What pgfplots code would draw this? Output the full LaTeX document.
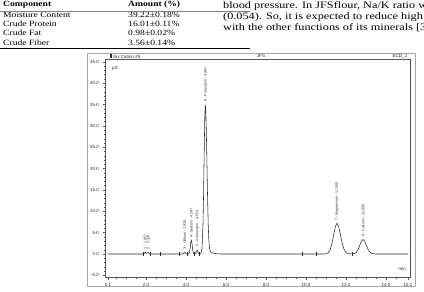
\documentclass[border=0pt]{standalone}
\usepackage{fontspec}
\setmainfont{Liberation Serif}
\newfontfamily\wideserif[FakeStretch=1.2]{Liberation Serif}
\newfontfamily\wideparserif[FakeStretch=1.25]{Liberation Serif}
\newfontfamily\arial{Liberation Sans}
\usepackage{pgfplots}
\pgfplotsset{compat=1.18}
\definecolor{ink}{HTML}{2A2A2A}
\definecolor{frame}{HTML}{555555}
\begin{document}
\begin{tikzpicture}
\useasboundingbox (0pt,0pt) rectangle (424pt,292pt);
\fill[white] (0pt,0pt) rectangle (424pt,292pt);
\begin{scope}
\clip (0pt,0pt) rectangle (424pt,292pt);
% table fragment
\begin{scope}[every node/.style={anchor=base west, inner sep=0pt}]
\node[font=\wideserif\fontsize{8}{9}\selectfont\bfseries] at (3pt,285pt) {Component};
\node[font=\wideserif\fontsize{8}{9}\selectfont\bfseries] at (128pt,285pt) {Amount (\%)};
\node[font=\wideserif\fontsize{8}{9}\selectfont] at (3pt,274.5pt) {Moisture Content};
\node[font=\wideserif\fontsize{8}{9}\selectfont] at (128pt,274.5pt) {39.22±0.18\%};
\node[font=\wideserif\fontsize{8}{9}\selectfont] at (3pt,265.3pt) {Crude Protein};
\node[font=\wideserif\fontsize{8}{9}\selectfont] at (128pt,265.3pt) {16.01±0.11\%};
\node[font=\wideserif\fontsize{8}{9}\selectfont] at (3pt,256.1pt) {Crude Fat};
\node[font=\wideserif\fontsize{8}{9}\selectfont] at (128pt,256.1pt) {0.98±0.02\%};
\node[font=\wideserif\fontsize{8}{9}\selectfont] at (3pt,246.9pt) {Crude Fiber};
\node[font=\wideserif\fontsize{8}{9}\selectfont] at (128pt,246.9pt) {3.56±0.14\%};
% paragraph fragment
\node[font=\wideparserif\fontsize{9.8}{11}\selectfont] at (223pt,283pt) {blood pressure. In JFSflour, Na/K ratio was found};
\node[font=\wideparserif\fontsize{9.8}{11}\selectfont] at (223pt,272pt) {(0.054). So, it is expected to reduce high blood};
\node[font=\wideparserif\fontsize{9.8}{11}\selectfont] at (223pt,261pt) {with the other functions of its minerals [36].};
\end{scope}
\draw[black!50, line width=0.4pt] (0pt,281pt) -- (250pt,281pt);
\draw[black, line width=1pt] (0pt,243pt) -- (250pt,243pt);
\end{scope}
% screenshot border
\draw[black!35, line width=0.6pt] (87pt,6pt) rectangle (415pt,239pt);
\begin{axis}[
  at={(105pt,14.5pt)}, anchor=south west, scale only axis,
  width=305pt, height=217.8pt,
  xmin=-0.05, xmax=15.2, ymin=-5.5, ymax=45.5,
  axis line style={frame, line width=0.5pt},
  tick style={frame, line width=0.4pt},
  tick pos=left, tick align=outside,
  major tick length=2.5pt, minor tick length=1.4pt,
  xtick={0.1,2,4,6,8,10,12,14,15.1},
  xticklabels={0.1,2.0,4.0,6.0,8.0,10.0,12.0,14.0,15.1},
  minor xtick={0.5,1,1.5,2.5,3,3.5,4.5,5,5.5,6.5,7,7.5,8.5,9,9.5,10.5,11,11.5,12.5,13,13.5,14.5},
  ytick={-5,0,5,10,15,20,25,30,35,40,45},
  yticklabels={-5.0,0.0,5.0,10.0,15.0,20.0,25.0,30.0,35.0,40.0,45.0},
  minor y tick num=4,
  ticklabel style={font=\arial\fontsize{4.5}{5}\selectfont, text=ink},
  xticklabel style={yshift=0.5pt},
  /pgf/number format/assume math mode=true,
  clip=false,
]
\addplot[ink, line width=0.55pt] coordinates {
(0.1,0) (1.85,0) (1.90,0.05) (1.93,0.30) (1.957,0.50) (1.99,0.30) (2.03,0.12)
(2.07,0.25) (2.11,0.35) (2.15,0.20) (2.20,0.03) (2.30,0)
(3.80,0) (3.85,0.05) (3.89,0.20) (3.93,0.35) (3.97,0.20) (4.01,0.05) (4.10,0.02)
(4.15,0.11) (4.18,0.49) (4.21,1.43) (4.24,2.67) (4.267,3.20) (4.29,2.81) (4.32,1.60)
(4.35,0.58) (4.38,0.14) (4.42,0.0) (4.46,0.05) (4.49,0.26) (4.52,0.64) (4.553,0.90)
(4.58,0.72) (4.62,0.22) (4.66,0.05) (4.70,0.02) (4.75,0.13) (4.80,1.3) (4.85,6.9)
(4.88,14.3) (4.91,23.8) (4.94,32.1) (4.967,35.0) (4.99,33.6) (5.02,28.1) (5.05,20.4)
(5.08,12.9) (5.11,7.0) (5.14,3.4) (5.18,1.2) (5.22,0.6) (5.30,0.3) (5.40,0.15)
(5.55,0.05) (5.70,0)
(10.9,0) (11.0,0.04) (11.1,0.22) (11.2,0.87) (11.3,2.44) (11.4,4.87) (11.475,6.53)
(11.55,7.2) (11.625,6.6) (11.7,5.0) (11.8,2.7) (11.9,1.1) (12.0,0.35) (12.1,0.12)
(12.2,0.05) (12.3,0.05) (12.4,0.07) (12.5,0.31) (12.6,1.0) (12.7,2.19) (12.775,3.05)
(12.85,3.4) (12.925,3.05) (13.0,2.25) (13.1,1.1) (13.2,0.4) (13.3,0.12) (13.4,0.03)
(13.5,0) (15.1,0)
};
% integration marks on the baseline
\addplot[only marks, mark=|, mark size=1.6pt, mark options={ink, line width=0.4pt}] coordinates {
(1.88,0) (2.22,0) (2.73,0) (3.66,0) (4.05,0) (4.40,0) (4.68,0) (9.79,0) (10.5,0) (12.32,0)
};
% peak labels
\begin{scope}[every node/.style={rotate=90, anchor=west, inner sep=0.5pt, font=\arial\fontsize{3.6}{4}\selectfont, text=ink}]
\node at (axis cs:1.957,1.0) {1 - 1.957};
\node at (axis cs:2.110,1.0) {2 - 2.110};
\node at (axis cs:3.930,1.0) {3 - Lithium - 3.930};
\node at (axis cs:4.267,3.6) {4 - Sodium - 4.267};
\node at (axis cs:4.553,1.6) {5 - Ammonium - 4.553};
\node at (axis cs:4.967,35.6) {6 - Potassium - 4.967};
\node at (axis cs:11.55,7.7) {7 - Magnesium - 11.550};
\node at (axis cs:12.85,3.9) {8 - Calcium - 12.850};
\end{scope}
\node[anchor=west, inner sep=0pt, font=\arial\fontsize{4.5}{5}\selectfont, text=ink] at (axis cs:0.3,43.5) {µS};
\node[anchor=east, inner sep=0pt, font=\arial\fontsize{4.5}{5}\selectfont, text=ink] at (axis cs:15.0,-3.5) {min};
\end{axis}
% header above the plot
\fill[ink] (109.5pt,233.5pt) rectangle (111.5pt,238pt);
\node[anchor=west, inner sep=0pt, font=\arial\fontsize{4.6}{5}\selectfont, text=ink] at (113pt,235.5pt) {Six Cation \#5};
\node[inner sep=0pt, font=\arial\fontsize{4.6}{5}\selectfont, text=ink] at (261pt,236pt) {JFS};
\node[inner sep=0pt, font=\arial\fontsize{4.6}{5}\selectfont, text=ink] at (400pt,236pt) {ECD\_1};
\end{tikzpicture}
\end{document}
